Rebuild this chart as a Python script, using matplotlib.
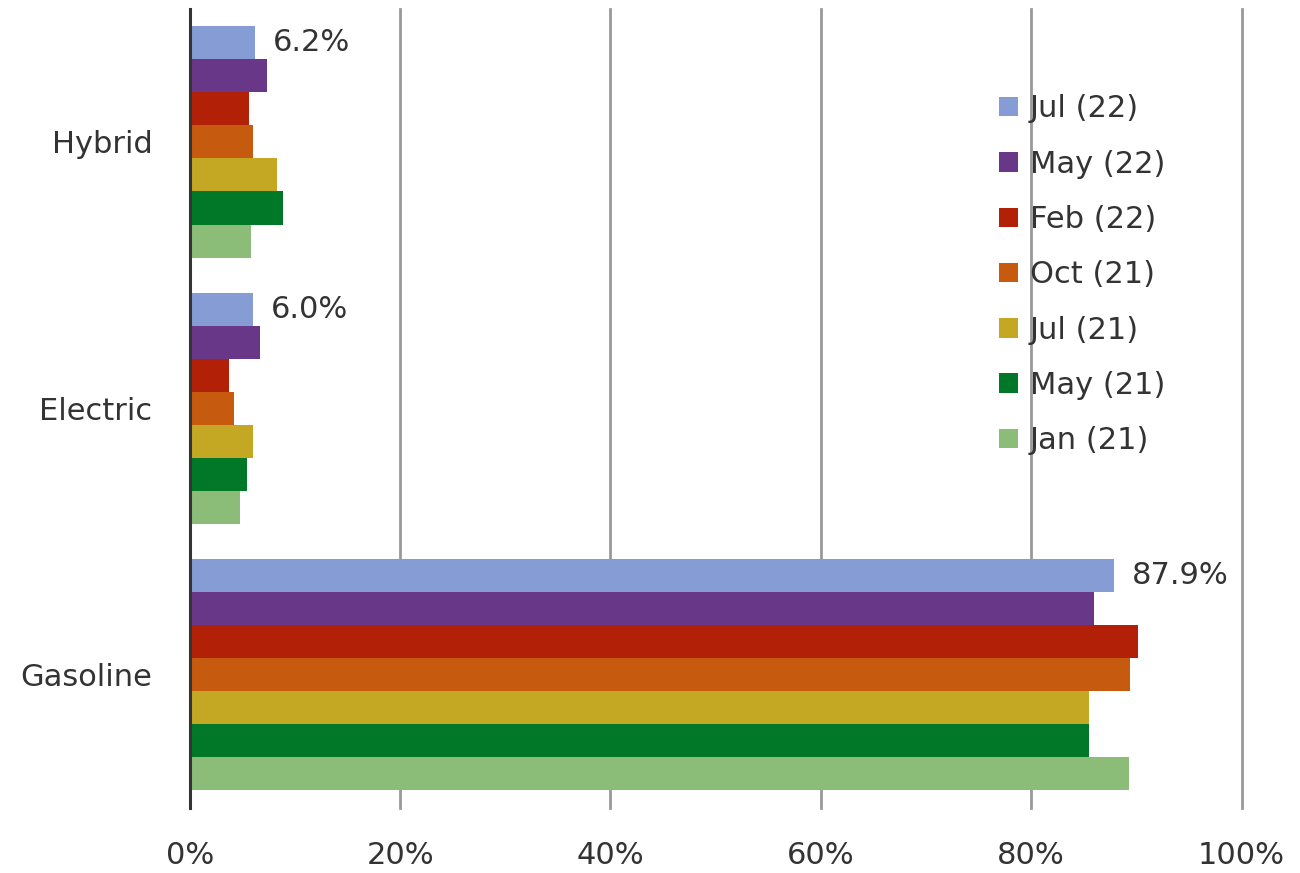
import numpy as np
import matplotlib
matplotlib.use("Agg")
from matplotlib import pyplot as plt
from matplotlib.patches import Patch

plt.rcParams['font.family'] = ['DejaVu Sans']

# data (share of vehicles, %)
categories = ["Hybrid", "Electric", "Gasoline"]
series = ["Jul (22)", "May (22)", "Feb (22)", "Oct (21)", "Jul (21)", "May (21)", "Jan (21)"]
jul22 = [6.2, 6.0, 87.9]
may22 = [7.3, 6.7, 86.0]
feb22 = [5.6, 3.7, 90.2]
oct21 = [6.0, 4.2, 89.4]
jul21 = [8.3, 6.0, 85.5]
may21 = [8.9, 5.4, 85.5]
jan21 = [5.8, 4.8, 89.3]
values = [jul22, may22, feb22, oct21, jul21, may21, jan21]
colors = ["#859dd4", "#693788", "#b22007", "#c65b0f", "#c4a723", "#007828", "#8bbd79"]
xticks = [0, 20, 40, 60, 80, 100]

txt = "#333333"

fig = plt.figure(figsize=(13, 8.73), dpi=100)
ax = fig.add_axes([0.146, 0.0745, 0.809, 0.9155])

h = 0.124
y = np.arange(len(categories))
for i, (vals, col) in enumerate(zip(values, colors)):
    ax.barh(y + (i - 3) * h, vals, height=h, color=col, zorder=2)

# labels on latest series
for yi, v in zip(y, jul22):
    ax.annotate(f"{v:.1f}%", xy=(v, yi - 3 * h), xytext=(13, 0), textcoords="offset points",
                va="center", ha="left", fontsize=22, color=txt)

ax.set_xlim(0, 100)
ax.set_ylim(2.5, -0.5)
ax.set_xticks(xticks)
ax.set_xticklabels([f"{t}%" for t in xticks], fontsize=22, color=txt)
ax.set_yticks(y)
ax.set_yticklabels(categories, fontsize=22, color=txt)
ax.tick_params(axis="x", length=0, pad=24)
ax.tick_params(axis="y", length=0, pad=27)

for s in ["top", "right", "bottom"]:
    ax.spines[s].set_visible(False)
ax.spines["left"].set_color("#333333")
ax.spines["left"].set_linewidth(2.2)
ax.spines["left"].set_zorder(4)

for t in xticks[1:]:
    ax.axvline(t, color="#999999", linewidth=2, zorder=1, clip_on=False)

handles = [Patch(facecolor=c, label=s) for c, s in zip(colors, series)]
leg = ax.legend(handles=handles, loc="upper left", bbox_to_anchor=(0.758, 0.908),
                frameon=False, fontsize=22, handlelength=0.6, handleheight=0.6,
                handletextpad=0.4, labelspacing=0.86, borderaxespad=0)
for t in leg.get_texts():
    t.set_color(txt)

fig.savefig("out.png", dpi=100)
